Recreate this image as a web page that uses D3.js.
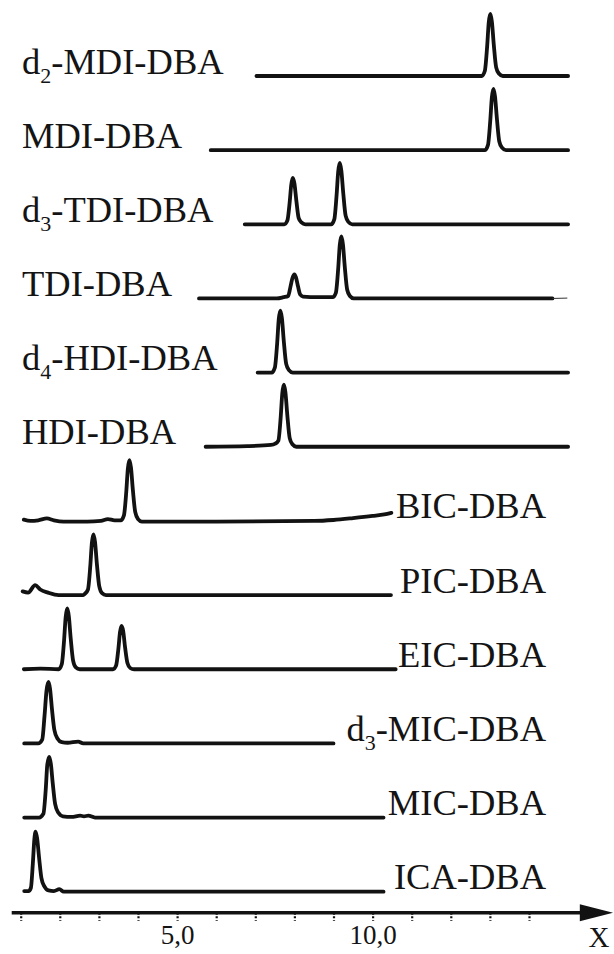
<!DOCTYPE html>
<html>
<head>
<meta charset="utf-8">
<script src="https://cdn.jsdelivr.net/npm/d3@7/dist/d3.min.js"></script>
<style>
  html, body { margin: 0; padding: 0; background: #fff; }
  svg text { font-family: "Liberation Serif", "DejaVu Serif", serif; fill: #141414; }
</style>
</head>
<body>
<svg id="chart" width="614" height="954"></svg>
<script>
// trace names top to bottom, "_n" marks a subscript
const traceNames = ['d_2-MDI-DBA', 'MDI-DBA', 'd_3-TDI-DBA', 'TDI-DBA', 'd_4-HDI-DBA', 'HDI-DBA',
                    'BIC-DBA', 'PIC-DBA', 'EIC-DBA', 'd_3-MIC-DBA', 'MIC-DBA', 'ICA-DBA']
const labelSide = ['left', 'left', 'left', 'left', 'left', 'left',
                   'right', 'right', 'right', 'right', 'right', 'right']

// [time, intensity], 100 = tallest peak
const d2mdi = [[7.03,0],[12.79,0],[12.87,8],[12.93,48],[12.97,86],[13.01,100],[13.05,88],[13.10,50],[13.16,14],[13.23,4],[13.33,0],[15.0,0]]
const mdi = [[5.86,0],[12.87,0],[12.95,8],[13.01,48],[13.05,85],[13.09,99],[13.13,87],[13.18,50],[13.24,14],[13.31,4],[13.41,0],[15.0,0]]
const d3tdi = [[6.73,0],[7.74,0],[7.82,6],[7.88,36],[7.92,64],[7.96,75],[8.00,66],[8.05,38],[8.11,10],[8.18,3],[8.28,0],
               [8.94,0],[9.02,8],[9.08,48],[9.12,85],[9.16,99],[9.20,87],[9.25,50],[9.31,14],[9.38,4],[9.48,0],[15.0,0]]
const tdi = [[5.56,0],[7.55,0],[7.72,2],[7.84,4],[7.90,19],[7.95,33],[8.00,39],[8.04,34],[8.09,20],[8.15,6],[8.22,3],[8.6,2],
             [8.98,2],[9.06,9],[9.12,48],[9.16,86],[9.20,100],[9.24,88],[9.29,50],[9.35,14],[9.42,4],[9.52,0],[14.6,0]]
const tdiTail = [[14.6,0],[14.98,0.6]]
const d4hdi = [[7.06,0],[7.42,0],[7.50,8],[7.56,48],[7.60,86],[7.64,100],[7.68,88],[7.73,50],[7.79,14],[7.86,4],[7.96,0],[15.0,0]]
const hdi = [[5.73,0],[6.8,1],[7.4,3],[7.51,5],[7.59,10],[7.65,48],[7.69,86],[7.73,100],[7.77,88],[7.82,50],[7.88,14],[7.95,4],[8.05,0],[15.0,0]]
const bic = [[1.08,2],[1.25,0],[1.45,1],[1.67,4],[1.85,1],[2.1,-1],[2.7,-1],[3.05,0],[3.23,3],[3.4,1],[3.56,1],[3.64,9],[3.70,47],
             [3.74,84],[3.78,98],[3.82,86],[3.87,49],[3.93,14],[4.0,3],[4.1,-1],[6.0,-1],[8.5,0],[9.0,1.5],[9.5,4.5],[10.0,8],[10.3,10.5],[10.48,13]]
const pic = [[1.05,6],[1.19,4],[1.37,16],[1.5,9],[1.7,4],[1.97,0],[2.6,0],[2.64,2],[2.72,9],[2.78,47],[2.82,84],[2.86,98],
             [2.90,86],[2.95,49],[3.01,14],[3.08,3],[3.18,0],[10.47,0]]
const eic = [[1.08,0],[1.5,1],[1.97,0],[2.05,8],[2.11,47],[2.15,84],[2.19,98],[2.23,86],[2.28,49],[2.34,14],[2.41,3],[2.51,0],
             [3.36,0],[3.44,6],[3.50,34],[3.54,60],[3.58,70],[3.62,62],[3.67,35],[3.73,10],[3.80,2],[3.9,0],[10.59,0]]
const d3mic = [[1.09,0],[1.45,0],[1.55,6],[1.61,45],[1.66,85],[1.71,99],[1.75,88],[1.80,55],[1.86,22],[1.94,8],[2.05,2],[2.2,1],[2.47,3],[2.6,0],[9.0,0]]
const mic = [[1.09,0],[1.47,0],[1.58,6],[1.64,45],[1.68,85],[1.73,98],[1.77,87],[1.82,55],[1.88,22],[1.96,8],[2.08,2],[2.3,1],
             [2.52,3],[2.62,2],[2.73,3],[2.9,0],[10.28,0]]
const ica = [[1.09,1],[1.2,1],[1.26,6],[1.31,45],[1.35,85],[1.38,97],[1.42,86],[1.47,55],[1.53,22],[1.61,8],[1.71,2],[1.85,1],[1.99,4],[2.1,0],[10.28,0]]

const traceData = [d2mdi, mdi, d3tdi, tdi, d4hdi, hdi, bic, pic, eic, d3mic, mic, ica]

const tickValues = [1, 2, 3, 4, 5, 6, 7, 8, 9, 10, 11, 12, 13, 14]
const tickLabels = {5: '5,0', 10: '10,0'}
const axisTitle = 'X'

const svg = d3.select('#chart')

const x = d3.scaleLinear().domain([0, 15]).range([-18.4, 568.1])
const row = d3.scalePoint().domain(traceNames).range([76, 891.7])
const h = d3.scaleLinear().domain([0, 100]).range([0, -62])

const line = base => d3.line()
    .x(d => x(d[0]))
    .y(d => base + h(d[1]))
    .curve(d3.curveMonotoneX)

// traces
const traces = svg.append('g')
traceNames.forEach((name, i) => {
    const base = row(name)
    traces.append('path')
        .datum(traceData[i])
        .attr('fill', 'none')
        .attr('stroke', '#121212')
        .attr('stroke-width', 3.8)
        .attr('stroke-linecap', 'round')
        .attr('stroke-linejoin', 'round')
        .attr('d', line(base))
    if (name == 'TDI-DBA') {
        traces.append('path')
            .datum(tdiTail)
            .attr('fill', 'none')
            .attr('stroke', '#333')
            .attr('stroke-width', 1)
            .attr('d', line(base))
    }
})

// labels
const labels = svg.append('g')
traceNames.forEach((name, i) => {
    const m = name.match(/^(.*?)_(\d)(.*)$/)
    const t = labels.append('text')
        .attr('x', labelSide[i] == 'left' ? 22 : 546)
        .attr('y', row(name) - 2.5)
        .attr('text-anchor', labelSide[i] == 'left' ? 'start' : 'end')
        .style('font-size', '36.5px')
    if (m) {
        t.append('tspan').text(m[1])
        t.append('tspan').text(m[2]).style('font-size', '22px').attr('dy', 9)
        t.append('tspan').text(m[3]).attr('dy', -9)
    } else {
        t.text(name)
    }
})

// x axis
const axisY = 912.7
const axisG = svg.append('g').attr('transform', `translate(0,${axisY})`)

axisG.append('line')
    .attr('x1', x(0.77))
    .attr('x2', x(15.5))
    .attr('y1', 0)
    .attr('y2', 0)
    .attr('stroke', '#121212')
    .attr('stroke-width', 3.6)

axisG.append('path')
    .attr('d', `M${x(15.3)},-8.5 L${x(16.15)},0 L${x(15.3)},8.5 Z`)
    .attr('fill', '#121212')

const xAxis = d3.axisBottom(x)
    .tickValues(tickValues)
    .tickSize(8)
    .tickPadding(4)
    .tickFormat(d => tickLabels[d] || '')

const ticks = axisG.append('g').call(xAxis)
ticks.select('.domain').remove()
ticks.selectAll('.tick line')
    .attr('stroke', '#121212')
    .attr('stroke-width', 2.2)
    .attr('stroke-dasharray', '2,1.6')
ticks.selectAll('.tick text')
    .attr('fill', '#141414')
    .style('font-family', '"Liberation Serif", serif')
    .style('font-size', '27px')

svg.append('text')
    .attr('x', 599)
    .attr('y', 947)
    .attr('text-anchor', 'middle')
    .style('font-size', '29px')
    .text(axisTitle)
</script>
</body>
</html>
